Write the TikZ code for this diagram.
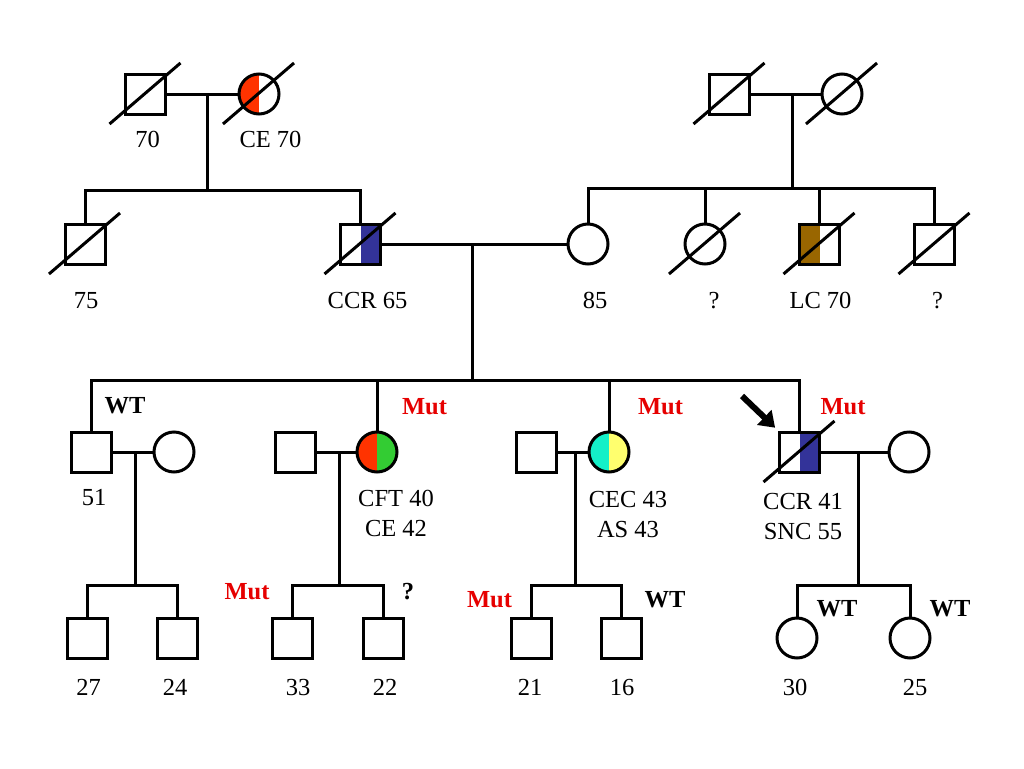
\documentclass[tikz,border=0pt]{standalone}
\usepackage{fontspec}
\setmainfont{Liberation Serif}
\usetikzlibrary{arrows.meta}

\definecolor{ceorange}{RGB}{255,51,0}
\definecolor{ccrblue}{RGB}{51,51,153}
\definecolor{lcbrown}{RGB}{153,102,0}
\definecolor{cftgreen}{RGB}{51,204,51}
\definecolor{ceccyan}{RGB}{20,240,200}
\definecolor{asyellow}{RGB}{255,255,110}
\definecolor{mutred}{RGB}{230,0,0}

\tikzset{
  male/.style={draw,rectangle,minimum size=40pt,inner sep=0pt},
  female/.style={draw,circle,minimum size=40pt,inner sep=0pt},
  halves/.style 2 args={path picture={
      \fill[#1] (path picture bounding box.south west) rectangle (path picture bounding box.north);
      \fill[#2] (path picture bounding box.south) rectangle (path picture bounding box.north east);}},
  age/.style={anchor=base,inner sep=0pt},
  twoline/.style={anchor=north,inner sep=0pt,align=center},
  mut/.style={anchor=base,inner sep=0pt,text=mutred,font=\bfseries},
  wt/.style={anchor=base,inner sep=0pt,font=\bfseries},
  proband/.style={-{Triangle[length=15pt,width=20pt]},line width=6pt,shorten >=4pt},
}
% slash through a deceased person
\newcommand{\dead}[1]{\draw ([shift={(-36pt,-30pt)}]#1.center) -- ([shift={(35pt,31pt)}]#1.center);}

\begin{document}
\fontsize{24.5}{30}\selectfont
\begin{tikzpicture}[x=1pt,y=-1pt,line width=3pt]
	\useasboundingbox (0,0) rectangle (1024,768);
	% generation I
	\node[male] (i1) at (145.5,94) {};
	\node[female,halves={ceorange}{white}] (i2) at (259,94) {};
	\node[male] (i3) at (729.5,94) {};
	\node[female] (i4) at (842,94) {};
	\dead{i1} \dead{i2} \dead{i3} \dead{i4}
	\node[age] (a70) at (147.5,147) {70};
	\node[age] (ace70) at (270.5,147) {CE 70};
	% generation II
	\node[male] (ii1) at (85,244) {};
	\node[male,halves={white}{ccrblue}] (ii2) at (360.5,244) {};
	\node[female] (ii3) at (588,244) {};
	\node[female] (ii4) at (705,244) {};
	\node[male,halves={lcbrown}{white}] (ii5) at (819.5,244) {};
	\node[male] (ii6) at (934.5,244) {};
	\dead{ii1} \dead{ii2} \dead{ii4} \dead{ii5} \dead{ii6}
	\node[age] (a75) at (86,308) {75};
	\node[age] (accr65) at (367.5,308) {CCR 65};
	\node[age] (a85) at (595,308) {85};
	\node[age] (aq1) at (714,308) {?};
	\node[age] (alc70) at (820.5,308) {LC 70};
	\node[age] (aq2) at (937.5,308) {?};
	% generation III
	\node[male] (iii1) at (91.5,452) {};
	\node[female] (iii2) at (174,452) {};
	\node[male] (iii3) at (295.5,452) {};
	\node[female,halves={ceorange}{cftgreen}] (iii4) at (377,452) {};
	\node[male] (iii5) at (536.5,452) {};
	\node[female,halves={ceccyan}{asyellow}] (iii6) at (609,452) {};
	\node[male,halves={white}{ccrblue}] (iii7) at (799.5,452) {};
	\node[female] (iii8) at (909,452) {};
	\dead{iii7}
	\node[age] (a51) at (94,505) {51};
	\node[twoline] (acft) at (396,488.5) {CFT 40\\CE 42};
	\node[twoline] (acec) at (628,489.5) {CEC 43\\AS 43};
	\node[twoline] (accr41) at (803,491.5) {CCR 41\\SNC 55};
	\node[wt] (wt1) at (125,413) {WT};
	\node[mut] (mut1) at (424.5,414) {Mut};
	\node[mut] (mut2) at (660.5,414) {Mut};
	\node[mut] (mut3) at (843,414) {Mut};
	\coordinate (pb) at (742,396);
	\draw[proband] (pb) -- (iii7.north west);
	% generation IV
	\node[male] (iv1) at (87.5,638) {};
	\node[male] (iv2) at (177.5,638) {};
	\node[male] (iv3) at (292.5,638) {};
	\node[male] (iv4) at (383,638) {};
	\node[male] (iv5) at (531.5,638) {};
	\node[male] (iv6) at (621.5,638) {};
	\node[female] (iv7) at (797,638) {};
	\node[female] (iv8) at (910,638) {};
	\node[age] (a27) at (88.5,695) {27};
	\node[age] (a24) at (175,695) {24};
	\node[age] (a33) at (298,695) {33};
	\node[age] (a22) at (385,695) {22};
	\node[age] (a21) at (530,695) {21};
	\node[age] (a16) at (622,695) {16};
	\node[age] (a30) at (795,695) {30};
	\node[age] (a25) at (915,695) {25};
	\node[mut] (mut4) at (247,599) {Mut};
	\node[wt] (q1) at (408,599) {?};
	\node[mut] (mut5) at (489.5,607) {Mut};
	\node[wt] (wt2) at (665,607) {WT};
	\node[wt] (wt3) at (837,616) {WT};
	\node[wt] (wt4) at (950,616) {WT};
	% lines of descent
	\coordinate (d1) at (207,94);
	\coordinate (s1) at (207,190);
	\draw (i1) -- (i2);
	\draw (d1) -- (s1);
	\draw (ii1.north) |- (s1) -| (ii2.north);
	\coordinate (d2) at (792,94);
	\coordinate (s2) at (792,188);
	\draw (i3) -- (i4);
	\draw (d2) -- (s2);
	\draw (ii3.north) |- (s2) -| (ii6.north);
	\draw (ii4.north) -- (ii4.north |- s2);
	\draw (ii5.north) -- (ii5.north |- s2);
	\coordinate (d3) at (472,244);
	\coordinate (s3) at (472,380);
	\draw (ii2) -- (ii3);
	\draw (d3) -- (s3);
	\draw (iii1.north) |- (s3) -| (iii7.north);
	\draw (iii4.north) -- (iii4.north |- s3);
	\draw (iii6.north) -- (iii6.north |- s3);
	\coordinate (d4) at (135,452);
	\coordinate (s4) at (135,585);
	\draw (iii1) -- (iii2);
	\draw (d4) -- (s4);
	\draw (iv1.north) |- (s4) -| (iv2.north);
	\coordinate (d5) at (339,452);
	\coordinate (s5) at (339,585);
	\draw (iii3) -- (iii4);
	\draw (d5) -- (s5);
	\draw (iv3.north) |- (s5) -| (iv4.north);
	\coordinate (d6) at (575,452);
	\coordinate (s6) at (575,585);
	\draw (iii5) -- (iii6);
	\draw (d6) -- (s6);
	\draw (iv5.north) |- (s6) -| (iv6.north);
	\coordinate (d7) at (858,452);
	\coordinate (s7) at (858,585);
	\draw (iii7) -- (iii8);
	\draw (d7) -- (s7);
	\draw (iv7.north) |- (s7) -| (iv8.north);
\end{tikzpicture}
\end{document}
